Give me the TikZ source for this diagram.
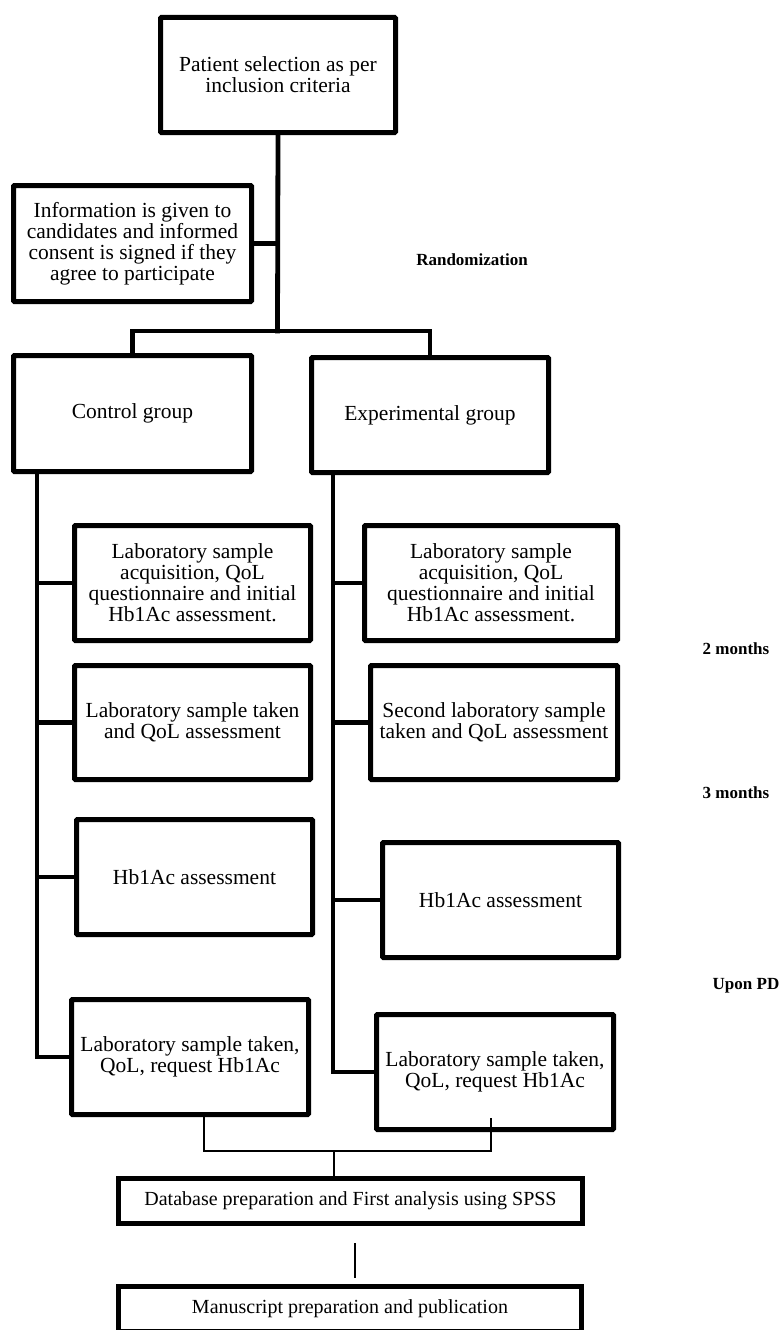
\documentclass[tikz,border=0pt]{standalone}
\usepackage{fontspec}
\setmainfont{Liberation Serif}
\begin{document}
\begin{tikzpicture}[x=1pt,y=-1pt,
  box/.style={draw, line width=5pt, rounded corners=1pt, align=center, inner sep=0pt,
    font=\fontsize{21.5}{21}\selectfont},
  sz/.style 2 args={minimum width=#1 pt, minimum height=#2 pt},
  wide/.style={draw, line width=5pt, align=center, inner sep=0pt,
    font=\fontsize{20}{22}\selectfont},
  conn/.style={line width=4.8pt, line cap=rect},
  thinl/.style={line width=1.3pt},
  lbl/.style={font=\fontsize{17}{17}\selectfont\bfseries, inner sep=0pt}]
\useasboundingbox (0,0) rectangle (780,1330);

% boxes
\node[box, sz={235}{115}] (top) at (278,75) {Patient selection as per\\inclusion criteria};
\node[box, sz={238}{116}] (info) at (132.5,243.5) {Information is given to\\candidates and informed\\consent is signed if they\\agree to participate};
\node[box, sz={238}{116}] (ctrl) at (132.5,413.5) {Control group};
\node[box, sz={237}{115}] (exp) at (430,415) {Experimental group};
\node[box, sz={236}{115}] (l1L) at (192.5,583) {Laboratory sample\\acquisition, QoL\\questionnaire and initial\\Hb1Ac assessment.};
\node[box, sz={253}{115}] (l1R) at (491,583) {Laboratory sample\\acquisition, QoL\\questionnaire and initial\\Hb1Ac assessment.};
\node[box, sz={236}{114}] (l2L) at (192.5,722.5) {Laboratory sample taken\\and QoL assessment};
\node[box, sz={247}{114}] (l2R) at (494,722.5) {Second laboratory sample\\taken and QoL assessment};
\node[box, sz={236}{115}] (hbL) at (194.5,877) {Hb1Ac assessment};
\node[box, sz={236}{115}] (hbR) at (500.5,900) {Hb1Ac assessment};
\node[box, sz={237}{115}] (l3L) at (190,1057) {Laboratory sample taken,\\QoL, request Hb1Ac};
\node[box, sz={237}{115}] (l3R) at (495,1072) {Laboratory sample taken,\\QoL, request Hb1Ac};
\node[wide, sz={464}{45}] (db) at (350.5,1201) {Database preparation and First analysis using SPSS};
\node[wide, sz={463}{45}] (ms) at (350,1309) {Manuscript preparation and publication};

% labels
\node[lbl] (rand) at (472,260) {Randomization};
\node[lbl] (m2) at (736,649) {2 months};
\node[lbl] (m3) at (736,793) {3 months};
\node[lbl, anchor=east] (pd) at (779.5,986) {Upon PD};

% coordinates
\coordinate (bar) at (277.5,331);
\coordinate (cx) at (37,0);
\coordinate (ex) at (333,0);
\coordinate (jl) at (204,1151);
\coordinate (jm) at (334,1151);
\coordinate (jr) at (491,1151);
\coordinate (rtop) at (491,1118);
\coordinate (ma) at (355,1243);
\coordinate (mb) at (355,1278);

% main connectors
\draw[conn] (top.south) -- (bar);
\draw[conn] (info.east) -- (info.east -| bar);
\draw[conn] (ctrl.north) |- (bar) -| (exp.north);

\draw[conn] (ctrl.south -| cx) |- (l3L.west);
\draw[conn] (l1L.west) -- (l1L.west -| cx);
\draw[conn] (l2L.west) -- (l2L.west -| cx);
\draw[conn] (hbL.west) -- (hbL.west -| cx);

\draw[conn] (exp.south -| ex) |- (l3R.west);
\draw[conn] (l1R.west) -- (l1R.west -| ex);
\draw[conn] (l2R.west) -- (l2R.west -| ex);
\draw[conn] (hbR.west) -- (hbR.west -| ex);

% thin connectors
\draw[thinl] (l3L.south -| jl) -- (jl) -- (jr) -- (rtop);
\draw[thinl] (jm) -- (jm |- db.north);
\draw[thinl] (ma) -- (mb);
\end{tikzpicture}
\end{document}
